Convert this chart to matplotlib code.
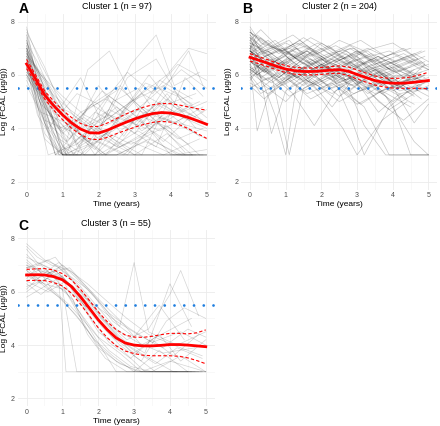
import matplotlib
matplotlib.use("Agg")
import matplotlib.pyplot as plt

plt.rcParams["font.family"] = ["Liberation Sans", "DejaVu Sans"]

# tiempos del ajuste (años)
fit_times = [0, 0.25, 0.5, 0.75, 1.0, 1.25, 1.5, 1.75, 2.0, 2.25, 2.5,
             2.75, 3.0, 3.25, 3.5, 3.75, 4.0, 4.25, 4.5, 4.75, 5.0]

# Cluster 1: curva media e IC
c1_mean = [6.41, 5.85, 5.25, 4.85, 4.5, 4.2, 3.97, 3.83, 3.82, 3.93, 4.08,
           4.22, 4.35, 4.46, 4.55, 4.59, 4.57, 4.5, 4.4, 4.28, 4.15]
c1_upper = [6.58, 6.0, 5.4, 5.02, 4.68, 4.4, 4.18, 4.06, 4.07, 4.2, 4.37,
            4.53, 4.67, 4.79, 4.88, 4.93, 4.92, 4.87, 4.8, 4.73, 4.68]
c1_lower = [6.24, 5.7, 5.1, 4.68, 4.32, 4.0, 3.76, 3.6, 3.57, 3.66, 3.8,
            3.92, 4.04, 4.14, 4.22, 4.26, 4.23, 4.13, 3.98, 3.8, 3.62]

# Cluster 2
c2_mean = [6.66, 6.55, 6.44, 6.32, 6.22, 6.16, 6.13, 6.13, 6.15, 6.18, 6.2,
           6.14, 6.02, 5.9, 5.79, 5.72, 5.69, 5.69, 5.71, 5.75, 5.79]
c2_upper = [6.8, 6.68, 6.57, 6.45, 6.35, 6.29, 6.26, 6.26, 6.28, 6.31, 6.34,
            6.3, 6.19, 6.07, 5.96, 5.89, 5.87, 5.88, 5.92, 6.0, 6.1]
c2_lower = [6.52, 6.42, 6.31, 6.19, 6.09, 6.03, 6.0, 6.0, 6.02, 6.05, 6.06,
            5.98, 5.85, 5.73, 5.62, 5.55, 5.51, 5.5, 5.5, 5.5, 5.48]

# Cluster 3
c3_mean = [6.63, 6.64, 6.63, 6.57, 6.45, 6.2, 5.82, 5.39, 4.95, 4.58, 4.27,
           4.08, 4.0, 3.97, 3.97, 3.99, 4.02, 4.02, 4.0, 3.97, 3.94]
c3_upper = [6.84, 6.86, 6.87, 6.82, 6.68, 6.45, 6.1, 5.68, 5.25, 4.88, 4.58,
            4.38, 4.3, 4.29, 4.33, 4.39, 4.44, 4.44, 4.42, 4.46, 4.57]
c3_lower = [6.42, 6.43, 6.42, 6.35, 6.22, 5.95, 5.54, 5.1, 4.65, 4.28, 3.97,
            3.78, 3.68, 3.62, 3.6, 3.6, 3.6, 3.58, 3.52, 3.42, 3.3]

# trayectorias individuales (tiempo, log FCAL)
c1_traj = [
    [(0, 7.8), (0.4, 5.0), (1.0, 3.0), (2.0, 3.0), (3.1, 3.9), (4.2, 3.0), (5.0, 3.0)],
    [(0, 7.1), (0.5, 4.2), (1.1, 3.0), (1.7, 4.8), (2.6, 5.6), (3.5, 4.1), (4.4, 4.9)],
    [(0, 6.9), (0.2, 6.1), (0.9, 3.6), (1.6, 3.0), (2.4, 3.0), (3.3, 3.0), (4.6, 3.0)],
    [(0, 6.6), (0.3, 5.8), (0.8, 4.5), (1.5, 5.9), (2.1, 4.2), (2.9, 6.4), (3.6, 7.5), (4.1, 5.6), (4.8, 6.1)],
    [(0, 6.3), (0.6, 3.0), (1.4, 3.4), (2.2, 4.6), (3.0, 3.8), (3.9, 5.3), (4.7, 4.0)],
    [(0, 7.3), (0.1, 6.8), (0.7, 3.9), (1.2, 3.0), (2.0, 3.5), (2.8, 3.0), (3.7, 4.4), (5.0, 3.9)],
    [(0, 6.0), (0.4, 4.9), (1.0, 4.1), (1.9, 3.2), (2.7, 4.7), (3.4, 5.6), (4.3, 4.6), (5.0, 5.0)],
    [(0, 7.0), (0.5, 5.5), (1.0, 3.0), (1.3, 3.0), (2.3, 5.2), (3.2, 4.3), (4.0, 3.0), (4.9, 3.0)],
    [(0, 6.7), (0.3, 4.8), (0.9, 3.0), (1.8, 4.0), (2.5, 3.3), (3.5, 4.8), (4.5, 6.9), (4.9, 5.6)],
    [(0, 5.6), (0.5, 4.3), (1.2, 3.9), (2.1, 5.4), (2.9, 4.6), (3.8, 3.5), (4.6, 4.5)],
    [(0, 7.4), (0.2, 6.0), (0.6, 4.4), (1.0, 3.0), (1.6, 3.0), (2.4, 4.1), (3.3, 5.7), (4.2, 5.2), (5.0, 4.1)],
    [(0, 6.4), (0.4, 5.1), (1.1, 3.5), (1.7, 6.2), (2.3, 6.9), (3.0, 5.0), (3.8, 4.0), (4.4, 3.1)],
    [(0, 6.8), (0.5, 3.6), (1.0, 3.0), (2.0, 3.0), (3.0, 3.0), (4.0, 3.0), (5.0, 3.0)],
    [(0, 7.2), (0.3, 6.5), (0.8, 5.0), (1.3, 4.2), (1.9, 3.0), (2.6, 3.9), (3.6, 4.9), (4.5, 4.3), (5.0, 4.7)],
    [(0, 6.1), (0.6, 5.0), (1.2, 4.6), (2.0, 3.8), (2.8, 5.9), (3.6, 6.6), (4.3, 5.0), (4.9, 4.6)],
    [(0, 6.5), (0.2, 5.4), (0.5, 3.8), (1.0, 3.0), (1.5, 3.7), (2.2, 3.0), (3.1, 4.5), (4.0, 4.0)],
    [(0, 5.9), (0.4, 5.2), (0.9, 4.0), (1.6, 4.4), (2.4, 3.6), (3.2, 3.0), (3.9, 4.9), (4.7, 5.3)],
    [(0, 7.0), (0.1, 6.6), (0.5, 5.9), (1.0, 4.8), (1.4, 3.3), (2.2, 4.3), (3.0, 5.1), (3.9, 6.0), (4.5, 7.0), (5.0, 6.8)],
    [(0, 6.2), (0.7, 4.7), (1.3, 3.0), (2.5, 3.0), (3.4, 3.6), (4.3, 3.0), (5.0, 3.0)],
    [(0, 6.9), (0.3, 5.3), (0.8, 3.0), (1.7, 3.9), (2.5, 4.8), (3.2, 3.9), (3.9, 4.6), (4.8, 3.7)],
    [(0, 6.6), (0.6, 4.0), (1.4, 5.3), (2.0, 4.9), (2.7, 3.7), (3.7, 5.8), (4.6, 5.1)],
    [(0, 7.6), (0.5, 6.3), (0.9, 5.0), (1.4, 3.9), (2.1, 3.0), (2.9, 3.5), (3.8, 3.0), (4.8, 3.6)],
    [(0, 6.3), (0.3, 4.5), (1.0, 3.0), (1.9, 3.0), (2.6, 4.4), (3.3, 4.0), (4.1, 5.4), (5.0, 4.4)],
    [(0, 5.8), (0.4, 4.6), (1.1, 4.2), (1.8, 3.4), (2.4, 5.0), (3.1, 5.5), (3.8, 4.2), (4.5, 4.8)],
    [(0, 7.1), (0.2, 6.2), (0.7, 5.2), (1.1, 3.0), (2.3, 3.0), (3.5, 3.0), (4.7, 3.0)],
    [(0, 6.7), (0.4, 5.6), (0.9, 4.6), (1.5, 4.0), (2.3, 4.7), (3.0, 4.2), (3.7, 5.0), (4.2, 4.5), (5.0, 4.0)],
    [(0, 6.4), (0.5, 5.0), (1.0, 3.3), (1.4, 3.0), (1.9, 4.6), (2.8, 4.0), (3.6, 3.3), (4.4, 5.9), (4.9, 5.2)],
    [(0, 7.5), (0.3, 5.9), (0.8, 4.1), (1.2, 3.6), (2.0, 5.6), (2.6, 4.5), (3.4, 6.0), (4.1, 4.8), (4.9, 4.3)],
    [(0, 6.0), (0.2, 5.5), (0.7, 3.4), (1.0, 3.0), (2.1, 3.6), (3.0, 3.0), (3.9, 3.8), (4.6, 3.0)],
    [(0, 6.8), (0.4, 6.0), (1.0, 5.2), (1.6, 4.5), (2.2, 4.1), (3.0, 4.7), (3.7, 4.4), (4.4, 4.0), (5.0, 3.6)],
    [(0, 7.0), (0.3, 6.2), (0.7, 4.8), (1.2, 4.0), (1.8, 4.9), (2.5, 4.3), (3.2, 5.3), (4.0, 4.7), (4.8, 4.2)],
    [(0, 6.5), (0.4, 5.2), (0.9, 3.0), (1.5, 3.0), (2.2, 3.8), (3.0, 3.0), (4.0, 3.0), (5.0, 3.0)],
    [(0, 7.3), (0.2, 6.4), (0.6, 5.6), (1.1, 4.3), (1.7, 3.5), (2.4, 3.9), (3.2, 4.8), (4.1, 4.2), (4.9, 4.8)],
    [(0, 6.2), (0.5, 4.8), (1.0, 3.9), (1.5, 4.6), (2.2, 5.1), (2.9, 4.4), (3.7, 3.9), (4.5, 4.5)],
    [(0, 6.9), (0.3, 5.6), (0.8, 3.0), (1.6, 3.0), (2.7, 3.0), (3.8, 3.0), (5.0, 3.0)],
    [(0, 7.7), (0.4, 6.4), (0.8, 5.4), (1.3, 4.5), (2.0, 3.6), (2.8, 4.4), (3.5, 5.2), (4.3, 6.2), (5.0, 5.5)],
    [(0, 6.6), (0.2, 6.0), (0.6, 4.6), (1.0, 3.8), (1.7, 4.7), (2.6, 5.5), (3.4, 4.5), (4.2, 3.6), (4.9, 4.0)],
    [(0, 6.0), (0.5, 5.1), (1.1, 3.0), (1.8, 3.6), (2.7, 3.0), (3.6, 4.2), (4.5, 3.4)],
    [(0, 7.2), (0.4, 5.7), (0.9, 4.3), (1.4, 3.4), (2.1, 4.2), (2.9, 5.0), (3.8, 5.6), (4.6, 4.9)],
    [(0, 6.8), (0.3, 6.1), (0.7, 5.3), (1.2, 4.7), (1.9, 4.0), (2.6, 3.3), (3.5, 3.9), (4.4, 3.0)],
    [(0, 6.3), (0.6, 4.2), (1.1, 3.5), (1.9, 4.6), (2.8, 6.1), (3.5, 5.3), (4.2, 6.4), (5.0, 5.8)],
    [(0, 7.5), (0.2, 6.7), (0.6, 5.0), (1.0, 3.0), (1.5, 3.0), (2.0, 4.0), (2.9, 3.4), (3.9, 4.1), (4.8, 3.0)],
    [(0, 6.1), (0.4, 5.5), (0.9, 4.7), (1.5, 3.8), (2.2, 3.0), (3.1, 3.7), (4.0, 4.5), (4.8, 5.0)],
    [(0, 6.7), (0.5, 5.8), (1.0, 4.4), (1.6, 3.0), (2.5, 3.0), (3.3, 3.5), (4.1, 3.0), (5.0, 3.2)],
    [(0, 7.0), (0.3, 5.0), (0.8, 3.0), (1.4, 3.9), (2.3, 4.5), (3.1, 4.1), (3.9, 5.1), (4.7, 4.4)],
]

c2_traj = [
    [(0, 7.8), (0.3, 7.2), (0.9, 6.9), (1.5, 7.4), (2.2, 6.8), (2.9, 7.0), (3.6, 6.3), (4.3, 6.6), (5.0, 6.2)],
    [(0, 6.9), (0.5, 6.2), (1.1, 6.6), (1.8, 5.9), (2.4, 6.4), (3.1, 5.5), (3.9, 5.8), (4.6, 5.2)],
    [(0, 7.4), (0.2, 6.8), (0.8, 7.1), (1.4, 6.5), (2.0, 7.2), (2.7, 6.6), (3.3, 6.9), (4.0, 6.1), (4.8, 6.5)],
    [(0, 6.2), (0.6, 5.7), (1.2, 6.3), (1.9, 5.4), (2.6, 6.0), (3.2, 4.1), (3.8, 3.0), (4.5, 3.0), (5.0, 3.0)],
    [(0, 7.0), (0.4, 6.6), (1.0, 5.8), (1.7, 6.5), (2.3, 5.9), (3.0, 6.7), (3.7, 5.6), (4.4, 6.0), (5.0, 5.7)],
    [(0, 6.6), (0.3, 5.9), (0.9, 6.4), (1.6, 6.9), (2.2, 6.1), (2.8, 5.4), (3.5, 6.2), (4.2, 5.5), (4.9, 6.4)],
    [(0, 7.6), (0.5, 7.0), (1.2, 7.5), (1.9, 6.8), (2.5, 7.3), (3.2, 6.9), (4.0, 7.2), (4.7, 6.6)],
    [(0, 5.6), (0.4, 5.1), (1.0, 5.9), (1.6, 5.3), (2.3, 5.7), (3.0, 4.9), (3.7, 5.4), (4.5, 4.8)],
    [(0, 6.8), (0.2, 6.3), (0.7, 4.5), (1.0, 3.0), (1.3, 5.6), (2.0, 6.2), (2.7, 5.8), (3.4, 6.4), (4.1, 5.9)],
    [(0, 7.2), (0.6, 6.7), (1.3, 6.1), (2.0, 6.6), (2.6, 6.0), (3.3, 6.5), (4.0, 5.7), (4.8, 5.9)],
    [(0, 6.4), (0.3, 6.9), (0.8, 6.2), (1.5, 5.6), (2.1, 6.3), (2.9, 5.9), (3.6, 4.6), (4.2, 5.3), (5.0, 5.5)],
    [(0, 7.5), (0.4, 6.9), (1.1, 7.3), (1.7, 6.4), (2.4, 6.8), (3.1, 6.2), (3.9, 6.6), (4.6, 6.0)],
    [(0, 5.9), (0.5, 6.4), (1.1, 5.5), (1.8, 6.0), (2.5, 5.2), (3.2, 5.8), (4.0, 5.0), (4.7, 5.6)],
    [(0, 7.0), (0.2, 6.5), (0.6, 3.8), (1.0, 5.4), (1.6, 6.1), (2.3, 6.6), (3.0, 6.0), (3.8, 6.3), (4.5, 5.8)],
    [(0, 6.7), (0.5, 6.1), (1.2, 6.8), (1.9, 6.3), (2.7, 6.9), (3.4, 6.1), (4.1, 5.5), (4.9, 6.0)],
    [(0, 7.3), (0.3, 7.7), (0.9, 6.9), (1.4, 7.3), (2.1, 6.5), (2.8, 7.0), (3.5, 6.4), (4.3, 6.8), (5.0, 6.3)],
    [(0, 6.1), (0.6, 5.5), (1.3, 6.0), (2.0, 5.1), (2.6, 4.0), (3.0, 3.0), (3.7, 4.3), (4.4, 5.0)],
    [(0, 6.9), (0.4, 6.3), (1.0, 6.7), (1.7, 6.0), (2.4, 6.4), (3.1, 5.7), (3.8, 6.1), (4.5, 5.4), (5.0, 5.8)],
    [(0, 7.7), (0.2, 7.1), (0.7, 6.5), (1.3, 7.0), (2.0, 6.3), (2.7, 6.8), (3.4, 6.0), (4.2, 6.5), (4.9, 6.9)],
    [(0, 6.3), (0.5, 5.8), (1.1, 6.5), (1.8, 5.7), (2.5, 6.2), (3.3, 5.3), (4.0, 5.9), (4.8, 5.1)],
    [(0, 7.1), (0.3, 6.4), (0.8, 5.9), (1.5, 6.6), (2.2, 7.1), (2.9, 6.3), (3.6, 6.7), (4.3, 5.9), (5.0, 6.2)],
    [(0, 6.5), (0.6, 6.0), (1.2, 5.3), (1.8, 4.1), (2.4, 5.4), (3.1, 6.0), (3.9, 5.5), (4.6, 6.2)],
    [(0, 7.4), (0.4, 7.0), (1.0, 6.4), (1.6, 6.9), (2.3, 6.2), (3.0, 6.6), (3.7, 5.9), (4.5, 6.3)],
    [(0, 5.8), (0.3, 6.3), (0.9, 5.6), (1.6, 6.1), (2.3, 5.5), (3.0, 5.9), (3.8, 5.2), (4.6, 3.5), (5.0, 3.0)],
    [(0, 6.8), (0.5, 7.3), (1.1, 6.6), (1.7, 7.0), (2.4, 6.5), (3.2, 6.9), (3.9, 6.2), (4.7, 6.6)],
    [(0, 7.0), (0.2, 6.0), (0.7, 6.5), (1.4, 5.8), (2.1, 6.3), (2.8, 5.6), (3.5, 6.0), (4.2, 5.4), (4.9, 5.7)],
    [(0, 6.6), (0.4, 6.1), (1.0, 6.9), (1.7, 6.4), (2.5, 5.6), (3.2, 4.8), (3.9, 3.0), (4.6, 3.0), (5.0, 3.0)],
    [(0, 7.2), (0.6, 6.8), (1.3, 7.2), (2.0, 6.7), (2.7, 6.1), (3.4, 6.6), (4.1, 6.1), (4.9, 6.5)],
    [(0, 6.0), (0.3, 5.5), (0.9, 6.1), (1.5, 5.4), (2.2, 5.9), (2.9, 5.3), (3.7, 5.7), (4.4, 5.1)],
    [(0, 7.5), (0.4, 6.7), (1.1, 7.0), (1.8, 6.5), (2.5, 6.9), (3.2, 6.4), (4.0, 6.8), (4.8, 6.2)],
    [(0, 6.4), (0.2, 3.9), (0.5, 5.2), (1.2, 6.0), (1.9, 5.6), (2.6, 6.1), (3.3, 5.5), (4.1, 6.0), (4.8, 5.6)],
    [(0, 6.9), (0.5, 6.4), (1.2, 5.9), (1.9, 6.5), (2.6, 6.0), (3.3, 5.6), (4.1, 6.2), (4.8, 5.8)],
    [(0, 7.1), (0.3, 6.6), (0.8, 7.0), (1.4, 6.2), (2.1, 6.6), (2.8, 4.5), (3.2, 3.0), (3.9, 4.8), (4.6, 5.6)],
    [(0, 6.2), (0.6, 6.6), (1.3, 5.9), (2.0, 6.4), (2.7, 5.8), (3.5, 6.3), (4.2, 5.6), (5.0, 5.9)],
    [(0, 7.6), (0.4, 7.2), (1.0, 6.8), (1.7, 7.4), (2.4, 6.9), (3.1, 7.3), (3.8, 6.7), (4.5, 7.0)],
    [(0, 6.7), (0.3, 6.2), (0.9, 5.7), (1.6, 6.3), (2.3, 5.8), (3.0, 6.4), (3.7, 5.3), (4.4, 5.8), (5.0, 5.4)],
    [(0, 5.5), (0.5, 5.9), (1.1, 5.2), (1.8, 5.7), (2.5, 5.0), (3.2, 5.5), (3.9, 4.7), (4.6, 5.3)],
    [(0, 7.3), (0.2, 6.9), (0.7, 7.3), (1.3, 6.6), (2.0, 7.0), (2.7, 6.4), (3.4, 6.8), (4.2, 6.3), (4.9, 6.7)],
    [(0, 6.5), (0.6, 6.0), (1.1, 3.0), (1.5, 5.5), (2.2, 6.0), (2.9, 5.6), (3.6, 6.1), (4.3, 5.5)],
    [(0, 6.9), (0.4, 6.5), (1.0, 6.1), (1.7, 6.6), (2.4, 6.1), (3.1, 6.5), (3.8, 6.0), (4.6, 4.2), (5.0, 4.9)],
    [(0, 6.3), (0.4, 5.6), (1.0, 5.0), (1.6, 5.8), (2.3, 5.3), (3.0, 6.0), (3.7, 5.4), (4.5, 5.9)],
    [(0, 7.0), (0.3, 7.4), (0.9, 6.8), (1.6, 7.1), (2.3, 6.4), (3.0, 6.9), (3.8, 6.4), (4.6, 6.8), (5.0, 6.5)],
    [(0, 6.6), (0.5, 6.9), (1.1, 6.3), (1.7, 5.7), (2.4, 6.2), (3.1, 6.6), (3.8, 5.8), (4.5, 6.1)],
    [(0, 5.9), (0.3, 5.3), (0.9, 5.8), (1.5, 6.3), (2.2, 5.6), (2.9, 6.1), (3.6, 5.0), (4.3, 4.3), (5.0, 5.1)],
    [(0, 7.4), (0.4, 6.8), (1.0, 7.2), (1.7, 6.7), (2.4, 7.1), (3.1, 6.6), (3.9, 6.9), (4.7, 6.4)],
    [(0, 6.8), (0.2, 6.4), (0.8, 5.9), (1.4, 6.5), (2.1, 6.0), (2.8, 6.5), (3.5, 5.9), (4.2, 6.3), (4.9, 5.9)],
    [(0, 6.1), (0.5, 6.6), (1.1, 6.0), (1.8, 6.5), (2.5, 5.7), (3.2, 6.2), (4.0, 5.4), (4.7, 5.9)],
    [(0, 7.2), (0.3, 6.6), (0.9, 7.0), (1.5, 6.4), (2.2, 6.8), (2.9, 6.2), (3.6, 6.7), (4.4, 6.1), (5.0, 6.4)],
    [(0, 6.5), (0.4, 6.1), (1.0, 6.5), (1.6, 5.9), (2.3, 4.8), (2.8, 5.7), (3.5, 6.2), (4.2, 5.7), (4.9, 6.0)],
    [(0, 7.6), (0.6, 7.1), (1.2, 6.7), (1.9, 7.2), (2.6, 6.6), (3.3, 7.0), (4.1, 6.5), (4.8, 6.9)],
    [(0, 6.0), (0.3, 6.4), (0.8, 5.8), (1.4, 6.2), (2.1, 5.5), (2.8, 5.9), (3.5, 5.3), (4.3, 5.7), (5.0, 5.2)],
    [(0, 6.9), (0.5, 6.5), (1.2, 6.9), (1.9, 6.2), (2.6, 6.7), (3.3, 6.0), (4.0, 4.9), (4.5, 3.0), (5.0, 3.0)],
    [(0, 7.1), (0.4, 6.7), (1.0, 6.3), (1.7, 6.8), (2.4, 6.3), (3.1, 6.8), (3.8, 6.2), (4.6, 6.6)],
    [(0, 6.4), (0.2, 6.0), (0.7, 6.5), (1.3, 5.9), (2.0, 6.4), (2.7, 5.8), (3.4, 6.3), (4.1, 5.6), (4.8, 6.1)],
    [(0, 5.7), (0.5, 5.3), (1.1, 5.8), (1.7, 5.1), (2.4, 5.6), (3.1, 4.9), (3.8, 5.5), (4.6, 4.9)],
    [(0, 7.3), (0.3, 6.9), (0.9, 6.4), (1.6, 6.9), (2.3, 6.4), (3.0, 6.9), (3.7, 6.3), (4.4, 6.7), (5.0, 6.2)],
    [(0, 6.7), (0.6, 6.3), (1.2, 6.7), (1.9, 6.1), (2.6, 6.5), (3.3, 5.9), (4.0, 6.3), (4.8, 5.7)],
    [(0, 7.0), (0.2, 7.5), (0.8, 6.8), (1.4, 7.2), (2.1, 6.6), (2.8, 7.1), (3.5, 6.5), (4.3, 7.0), (4.9, 6.4)],
    [(0, 6.2), (0.4, 5.8), (1.0, 6.2), (1.7, 5.6), (2.4, 6.0), (3.1, 5.4), (3.8, 5.9), (4.5, 5.3), (5.0, 5.6)],
    [(0, 6.9), (0.5, 6.4), (1.1, 6.8), (1.8, 6.2), (2.5, 6.6), (3.2, 6.1), (3.9, 6.5), (4.7, 5.9)],
]

c3_traj = [
    [(0, 7.8), (0.5, 7.2), (1.0, 6.9), (1.5, 6.0), (2.0, 5.2), (2.5, 4.4), (3.0, 3.6), (3.6, 3.0), (4.4, 3.0), (5.0, 3.0)],
    [(0, 6.9), (0.4, 7.0), (0.9, 6.4), (1.1, 3.0), (1.6, 3.0), (2.4, 3.0), (3.3, 3.0), (4.2, 3.0)],
    [(0, 7.1), (0.3, 6.8), (0.8, 6.6), (1.3, 6.2), (1.8, 5.0), (2.3, 4.1), (2.9, 3.5), (3.5, 4.2), (4.1, 3.6), (4.8, 4.4)],
    [(0, 6.4), (0.5, 6.8), (1.0, 6.5), (1.4, 5.4), (1.9, 4.3), (2.5, 3.0), (3.1, 3.0), (3.8, 3.0), (4.6, 3.0)],
    [(0, 6.7), (0.4, 6.3), (0.9, 6.9), (1.3, 6.4), (1.7, 5.8), (2.2, 4.9), (2.8, 4.2), (3.4, 4.6), (4.0, 5.9), (4.3, 6.8), (4.8, 5.1)],
    [(0, 6.2), (0.6, 6.5), (1.1, 6.0), (1.6, 4.8), (2.0, 3.9), (2.6, 3.3), (3.2, 3.0), (4.0, 3.4), (5.0, 3.0)],
    [(0, 7.4), (0.3, 7.0), (0.8, 7.3), (1.2, 6.6), (1.7, 6.1), (2.1, 5.5), (2.6, 4.7), (3.0, 7.1), (3.4, 4.5), (4.2, 4.0), (5.0, 4.5)],
    [(0, 6.8), (0.5, 6.2), (1.0, 6.6), (1.5, 5.6), (2.0, 4.5), (2.6, 3.9), (3.3, 3.0), (4.1, 3.0), (4.9, 3.0)],
    [(0, 6.0), (0.4, 6.4), (0.9, 5.8), (1.4, 5.1), (1.9, 4.2), (2.4, 3.6), (3.0, 3.0), (3.7, 3.8), (4.5, 3.0)],
    [(0, 7.0), (0.6, 6.7), (1.2, 6.9), (1.6, 6.3), (2.1, 5.6), (2.7, 4.8), (3.2, 4.0), (3.9, 4.5), (4.6, 5.0)],
    [(0, 6.5), (0.3, 6.9), (0.7, 6.1), (1.2, 5.5), (1.8, 4.6), (2.3, 3.8), (2.9, 3.2), (3.5, 3.0), (4.3, 3.6), (5.0, 3.0)],
    [(0, 7.2), (0.5, 6.6), (1.0, 7.0), (1.4, 6.5), (1.9, 5.8), (2.4, 4.9), (3.0, 4.3), (3.7, 5.5), (4.4, 4.2)],
    [(0, 6.3), (0.4, 5.9), (0.8, 6.3), (1.3, 5.7), (1.7, 4.4), (2.2, 3.5), (2.8, 3.0), (3.6, 3.0), (4.5, 3.0)],
    [(0, 6.9), (0.6, 7.2), (1.1, 6.7), (1.5, 6.2), (2.0, 5.4), (2.5, 4.6), (3.1, 4.1), (3.8, 3.7), (4.7, 3.9)],
    [(0, 7.6), (0.3, 7.1), (0.8, 6.8), (1.3, 6.1), (1.8, 5.3), (2.4, 4.3), (3.0, 3.7), (3.7, 4.4), (4.3, 3.4), (5.0, 4.2)],
    [(0, 6.6), (0.5, 6.3), (1.0, 6.1), (1.4, 3.0), (2.0, 3.0), (2.8, 3.0), (3.6, 3.0), (4.4, 3.0), (5.0, 3.0)],
    [(0, 6.1), (0.4, 6.6), (0.9, 6.3), (1.4, 5.8), (1.9, 5.1), (2.4, 4.4), (3.0, 3.8), (3.6, 3.3), (4.2, 3.9), (4.9, 3.5)],
    [(0, 7.3), (0.6, 6.9), (1.1, 6.4), (1.6, 5.5), (2.1, 4.7), (2.6, 4.0), (3.2, 3.4), (3.9, 4.9), (4.4, 5.4), (5.0, 5.0)],
    [(0, 6.8), (0.3, 6.5), (0.8, 6.8), (1.2, 6.3), (1.7, 5.6), (2.2, 4.8), (2.7, 4.1), (3.3, 3.6), (4.1, 3.0), (4.9, 3.0)],
    [(0, 5.8), (0.5, 6.2), (1.0, 5.7), (1.5, 4.9), (2.0, 4.0), (2.5, 3.4), (3.1, 3.0), (3.9, 3.0), (4.8, 3.0)],
    [(0, 7.0), (0.4, 6.6), (0.9, 7.1), (1.3, 6.7), (1.8, 6.0), (2.3, 5.2), (2.9, 4.6), (3.5, 4.1), (4.3, 4.5), (5.0, 4.0)],
    [(0, 6.4), (0.6, 6.0), (1.1, 6.4), (1.6, 5.9), (2.1, 5.0), (2.7, 4.2), (3.3, 3.7), (4.0, 6.3), (4.6, 4.7)],
    [(0, 7.7), (0.3, 7.3), (0.7, 7.0), (1.2, 6.8), (1.7, 6.3), (2.2, 5.7), (2.8, 5.0), (3.4, 4.4), (4.1, 4.0), (4.9, 3.6)],
    [(0, 6.6), (0.5, 6.9), (1.0, 6.2), (1.5, 5.2), (2.0, 4.3), (2.6, 3.7), (3.2, 3.0), (3.9, 3.0), (4.7, 3.0)],
    [(0, 6.9), (0.4, 6.4), (0.9, 6.7), (1.4, 6.0), (1.9, 5.5), (2.5, 4.9), (3.1, 4.4), (3.8, 3.9), (4.5, 4.6), (5.0, 4.3)],
]

titles = ["Cluster 1 (n = 97)", "Cluster 2 (n = 204)", "Cluster 3 (n = 55)"]
letters = ["A", "B", "C"]
threshold = 5.5

fig = plt.figure(figsize=(4.4, 4.26), dpi=100)

# posiciones de los paneles en fracciones de la figura
positions = [
    [0.040, 0.555, 0.450, 0.413],
    [0.548, 0.555, 0.446, 0.413],
    [0.040, 0.046, 0.448, 0.413],
]
panels = [
    (c1_traj, c1_mean, c1_upper, c1_lower, 0.16),
    (c2_traj, c2_mean, c2_upper, c2_lower, 0.22),
    (c3_traj, c3_mean, c3_upper, c3_lower, 0.17),
]

for i, (trajs, mean, up, lo, alpha) in enumerate(panels):
    ax = fig.add_axes(positions[i])
    ax.set_xlim(-0.25, 5.25)
    ax.set_ylim(1.7, 8.3)
    ax.set_xticks([0, 1, 2, 3, 4, 5])
    ax.set_yticks([2, 4, 6, 8])
    ax.set_xticks([0.5, 1.5, 2.5, 3.5, 4.5], minor=True)
    ax.set_yticks([3, 5, 7], minor=True)
    ax.grid(which="major", color="#ebebeb", lw=0.6)
    ax.grid(which="minor", color="#f3f3f3", lw=0.4)
    ax.set_axisbelow(True)
    for s in ax.spines.values():
        s.set_visible(False)
    ax.tick_params(which="both", length=0, labelsize=5, labelcolor="#4d4d4d", pad=2)

    for tr in trajs:
        xs = [p[0] for p in tr]
        ys = [p[1] for p in tr]
        ax.plot(xs, ys, color="black", alpha=alpha, lw=0.5)

    ax.axhline(threshold, color="#1f7fe0", lw=2.0, linestyle=(0, (0.01, 3.5)),
               dash_capstyle="round", zorder=3)
    ax.plot(fit_times, up, color="red", lw=0.8, linestyle=(0, (3, 2)), zorder=4)
    ax.plot(fit_times, lo, color="red", lw=0.8, linestyle=(0, (3, 2)), zorder=4)
    ax.plot(fit_times, mean, color="red", lw=2.0, zorder=5)

    ax.set_title(titles[i], fontsize=6.5, pad=3)
    ax.set_xlabel("Time (years)", fontsize=6, labelpad=1)
    ax.set_ylabel("Log (FCAL (μg/g))", fontsize=6, labelpad=2)

    x0, y0, w, h = positions[i]
    fig.text(x0 + 0.002, y0 + h + 0.027, letters[i], fontsize=10, fontweight="bold",
             ha="left", va="top")

fig.savefig("out.png", dpi=100)
